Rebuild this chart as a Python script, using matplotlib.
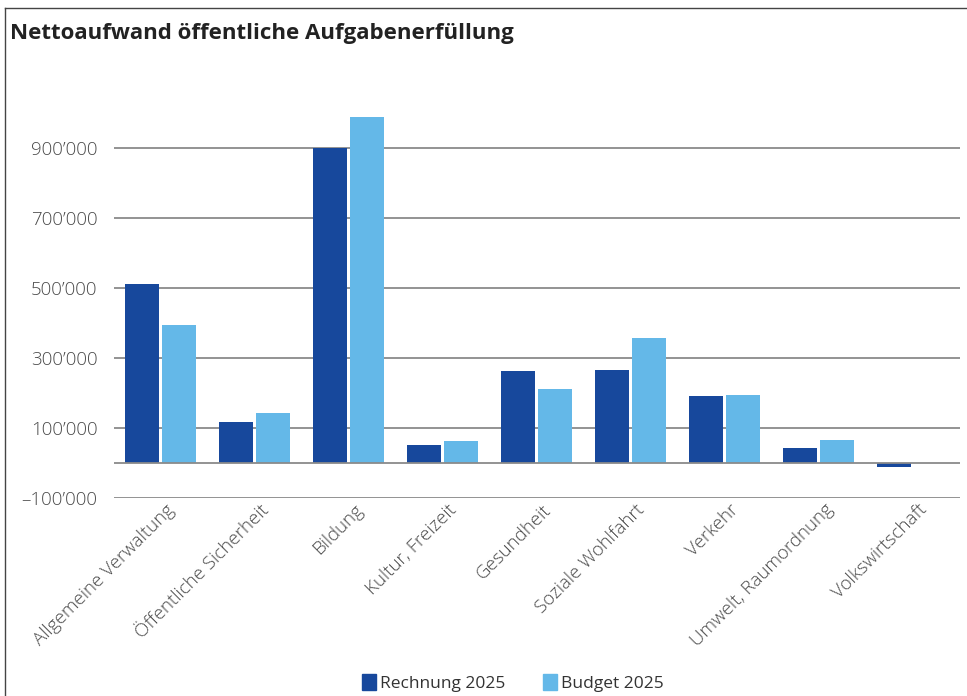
import numpy as np
import matplotlib.pyplot as plt
from matplotlib.lines import Line2D
from matplotlib.patches import Patch

# Daten
kategorien = ['Allgemeine Verwaltung', 'Öffentliche Sicherheit', 'Bildung',
              'Kultur, Freizeit', 'Gesundheit', 'Soziale Wohlfahrt', 'Verkehr',
              'Umwelt, Raumordnung', 'Volkswirtschaft']
rechnung = [511000, 117000, 900000, 51000, 263000, 266000, 191000, 43000, -10000]
budget = [394000, 143000, 988000, 63000, 211000, 357000, 194000, 66000, -1000]
yticks = [-100000, 100000, 300000, 500000, 700000, 900000]
ytick_labels = ['–100’000', '100’000', '300’000', '500’000', '700’000', '900’000']

dunkel = '#17489C'
hell = '#64B8E8'
grau = '#8A8A8A'

plt.rcParams['font.family'] = ['Open Sans', 'DejaVu Sans']

fig = plt.figure(figsize=(9.67, 6.96), dpi=100)
ax = fig.add_axes([114/967, 1 - 498/696, (960 - 114)/967, (498 - 78)/696])

x = np.arange(len(kategorien))
ax.bar(x - 0.2, rechnung, width=0.36, color=dunkel, zorder=3)
ax.bar(x + 0.19, budget, width=0.36, color=hell, zorder=3)

ax.set_xlim(-0.5, len(kategorien) - 0.5)
ax.set_ylim(-100000, 1100000)

# Gitterlinien
for yv in yticks:
    ax.axhline(yv, color=grau, lw=1.3, zorder=1)
ax.axhline(0, color=grau, lw=1.3, zorder=4)

ax.set_yticks(yticks)
ax.set_yticklabels(ytick_labels, fontsize=13.5, color='#4a4a4a', fontweight='light')
ax.tick_params(axis='y', length=0, pad=12)
ax.set_xticks([])
for s in ax.spines.values():
    s.set_visible(False)

# Kategorien schräg
for i, k in enumerate(kategorien):
    ax.text(i + 0.05, -108000, k, rotation=45, ha='right', va='top',
            rotation_mode='anchor', fontsize=13.5, color='#4a4a4a',
            fontweight='light')

# Titel
fig.text(10/967, 1 - 33/696, 'Nettoaufwand öffentliche Aufgabenerfüllung',
         fontsize=16, fontweight='bold', color='#222222', va='center', ha='left')

# Rahmen
fig.add_artist(Line2D([5/967, 5/967], [0, 1 - 8/696], color='#444444', lw=1,
                      transform=fig.transFigure))
fig.add_artist(Line2D([5/967, 1], [1 - 8/696, 1 - 8/696], color='#444444', lw=1,
                      transform=fig.transFigure))

# Legende
handles = [Patch(color=dunkel, label='Rechnung 2025'), Patch(color=hell, label='Budget 2025')]
fig.legend(handles=handles, loc='center', bbox_to_anchor=(513/967, 1 - 683/696),
           ncol=2, frameon=False, fontsize=12.5, handlelength=0.8, handleheight=1.0,
           handletextpad=0.2, columnspacing=2.2, labelcolor='#333333')

fig.savefig('out.png', dpi=100)
